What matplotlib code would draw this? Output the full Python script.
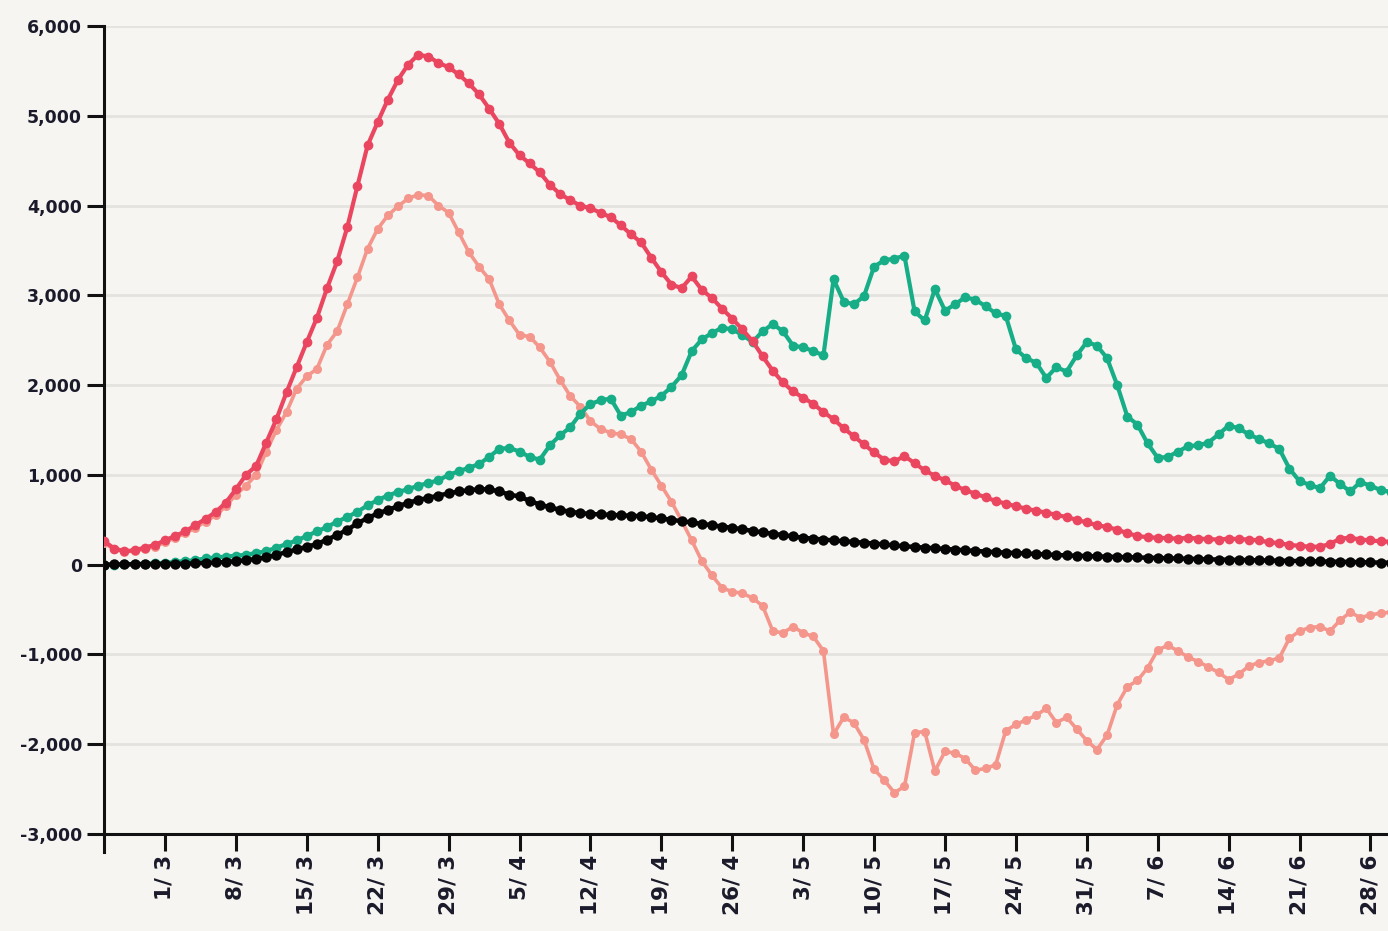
import matplotlib
matplotlib.use("Agg")
import matplotlib.pyplot as plt
import matplotlib.ticker as mticker
import pandas as pd

# ---- data (daily values) ----
start_date = "2020-02-24"

new_cases = [
    260, 180, 150, 160, 190, 220, 270, 320, 370, 440,
    510, 585, 690, 840, 1000, 1100, 1360, 1620, 1920, 2200,
    2480, 2750, 3080, 3380, 3760, 4220, 4670, 4930, 5180, 5400,
    5570, 5680, 5660, 5590, 5540, 5460, 5360, 5240, 5080, 4910,
    4700, 4560, 4470, 4370, 4230, 4130, 4060, 4000, 3970, 3920,
    3870, 3780, 3680, 3590, 3420, 3260, 3120, 3080, 3210, 3060,
    2970, 2850, 2740, 2620, 2490, 2320, 2160, 2030, 1930, 1860,
    1790, 1700, 1620, 1520, 1430, 1340, 1250, 1170, 1150, 1210,
    1130, 1050, 990, 940, 880, 830, 790, 750, 710, 680,
    650, 625, 600, 580, 555, 530, 500, 470, 440, 420,
    390, 350, 320, 305, 300, 295, 290, 300, 290, 285,
    280, 290, 285, 280, 270, 250, 240, 220, 210, 200,
    200, 230, 290, 300, 280, 270, 260, 255,
]

active_change = [
    240, 170, 145, 150, 175, 200, 250, 300, 350, 410,
    480, 550, 650, 780, 880, 1000, 1260, 1500, 1700, 1960,
    2100, 2180, 2450, 2600, 2900, 3200, 3520, 3740, 3890, 3990,
    4080, 4120, 4110, 4000, 3920, 3700, 3480, 3320, 3180, 2900,
    2720, 2560, 2540, 2420, 2260, 2060, 1880, 1760, 1600, 1510,
    1470, 1450, 1400, 1260, 1060, 880, 700, 490, 270, 40,
    -120, -260, -300, -320, -370, -460, -740, -760, -690, -760,
    -800, -960, -1890, -1700, -1760, -1950, -2280, -2400, -2540, -2470,
    -1870, -1860, -2300, -2080, -2100, -2160, -2290, -2270, -2230, -1850,
    -1780, -1730, -1680, -1600, -1760, -1700, -1830, -1960, -2060, -1900,
    -1560, -1360, -1290, -1150, -950, -900, -960, -1030, -1080, -1140,
    -1200, -1280, -1220, -1130, -1090, -1070, -1040, -820, -740, -700,
    -690, -740, -620, -530, -590, -560, -540, -530,
]

recovered = [
    0, 0, 5, 10, 10, 15, 20, 30, 40, 50,
    70, 80, 90, 100, 110, 130, 150, 190, 230, 270,
    320, 370, 420, 480, 530, 590, 660, 720, 770, 810,
    840, 880, 910, 940, 1000, 1040, 1080, 1120, 1200, 1290,
    1300, 1260, 1200, 1170, 1330, 1440, 1530, 1680, 1790, 1830,
    1850, 1660, 1700, 1770, 1820, 1880, 1980, 2110, 2380, 2510,
    2580, 2640, 2620, 2560, 2480, 2600, 2680, 2600, 2440, 2420,
    2380, 2330, 3180, 2930, 2900, 2990, 3320, 3390, 3410, 3440,
    2820, 2720, 3070, 2830, 2900, 2980, 2950, 2880, 2800, 2770,
    2400, 2300, 2250, 2080, 2200, 2150, 2330, 2480, 2440, 2300,
    2000, 1650, 1560, 1350, 1190, 1200, 1260, 1320, 1330, 1360,
    1450, 1550, 1520, 1450, 1400, 1350, 1290, 1070, 930, 890,
    850, 990, 900, 815, 920, 880, 830, 810,
]

deaths = [
    0, 2, 3, 4, 5, 6, 7, 8, 10, 15,
    20, 25, 30, 40, 50, 65, 80, 110, 140, 170,
    200, 230, 280, 330, 390, 460, 520, 570, 610, 650,
    690, 720, 745, 770, 795, 815, 830, 840, 840, 815,
    780, 760, 710, 670, 640, 610, 590, 575, 565, 560,
    555, 550, 545, 540, 530, 515, 500, 485, 470, 455,
    440, 425, 410, 395, 375, 360, 345, 330, 315, 300,
    290, 280, 270, 262, 254, 245, 235, 225, 215, 205,
    197, 190, 183, 175, 168, 160, 153, 146, 140, 135,
    130, 125, 120, 114, 108, 103, 99, 95, 92, 89,
    86, 83, 80, 77, 75, 72, 69, 66, 63, 60,
    57, 55, 53, 51, 49, 47, 45, 43, 40, 38,
    36, 34, 32, 30, 28, 25, 23, 22,
]

tick_dates = pd.date_range("2020-03-01", "2020-06-28", freq="7D")
tick_labels = [f"{d.day}/ {d.month}" for d in tick_dates]
y_ticks = [-3000, -2000, -1000, 0, 1000, 2000, 3000, 4000, 5000, 6000]

# ---- styling ----
bg = "#f6f5f1"
c_new = "#ea4660"
c_active = "#f4968c"
c_recov = "#16ad87"
c_death = "#050505"
grid_c = "#e4e3df"

W, H = 1388, 931
fig = plt.figure(figsize=(W / 100, H / 100), dpi=100)
fig.patch.set_facecolor(bg)

px_per_day = 10.13
x0_px, ytop_px, ybot_px = 104.2, 26, 834
n_days_view = 130
ax = fig.add_axes([x0_px / W, 1 - ybot_px / H,
                   n_days_view * px_per_day / W, (ybot_px - ytop_px) / H])
ax.set_facecolor(bg)

dates = pd.date_range(start_date, periods=len(new_cases), freq="D")

ax.plot(dates, active_change, color=c_active, lw=2.6, zorder=3,
        marker="o", markersize=6.5, markeredgewidth=0)
ax.plot(dates, recovered, color=c_recov, lw=3.0, zorder=4,
        marker="o", markersize=7.0, markeredgewidth=0)
ax.plot(dates, new_cases, color=c_new, lw=3.0, zorder=5,
        marker="o", markersize=7.0, markeredgewidth=0)
ax.plot(dates, deaths, color=c_death, lw=3.2, zorder=6,
        marker="o", markersize=7.5, markeredgewidth=0)

ax.set_xlim(pd.Timestamp(start_date), pd.Timestamp(start_date) + pd.Timedelta(days=n_days_view))
ax.set_ylim(-3000, 6000)

ax.set_yticks(y_ticks)
ax.yaxis.set_major_formatter(mticker.FuncFormatter(lambda v, p: f"{int(v):,}"))
ax.set_xticks(tick_dates)
ax.set_xticklabels(tick_labels, rotation=90, va="top", ha="center")

ax.yaxis.grid(True, color=grid_c, lw=2)
ax.xaxis.grid(False)
ax.set_axisbelow(True)

for s in ["top", "right"]:
    ax.spines[s].set_visible(False)
for s in ["left", "bottom"]:
    ax.spines[s].set_color("#111111")
    ax.spines[s].set_linewidth(2.2)
ax.spines["left"].set_bounds(-3200, 6000)

ax.tick_params(axis="both", colors="#111111", width=2.2, length=12)
ax.tick_params(axis="y", pad=4, labelsize=12.5)
ax.tick_params(axis="x", pad=3, labelsize=15.5)
for lab in ax.get_yticklabels() + ax.get_xticklabels():
    lab.set_fontweight("bold")
    lab.set_color("#1a1a2a")

fig.savefig("out.png", dpi=100, facecolor=bg)
